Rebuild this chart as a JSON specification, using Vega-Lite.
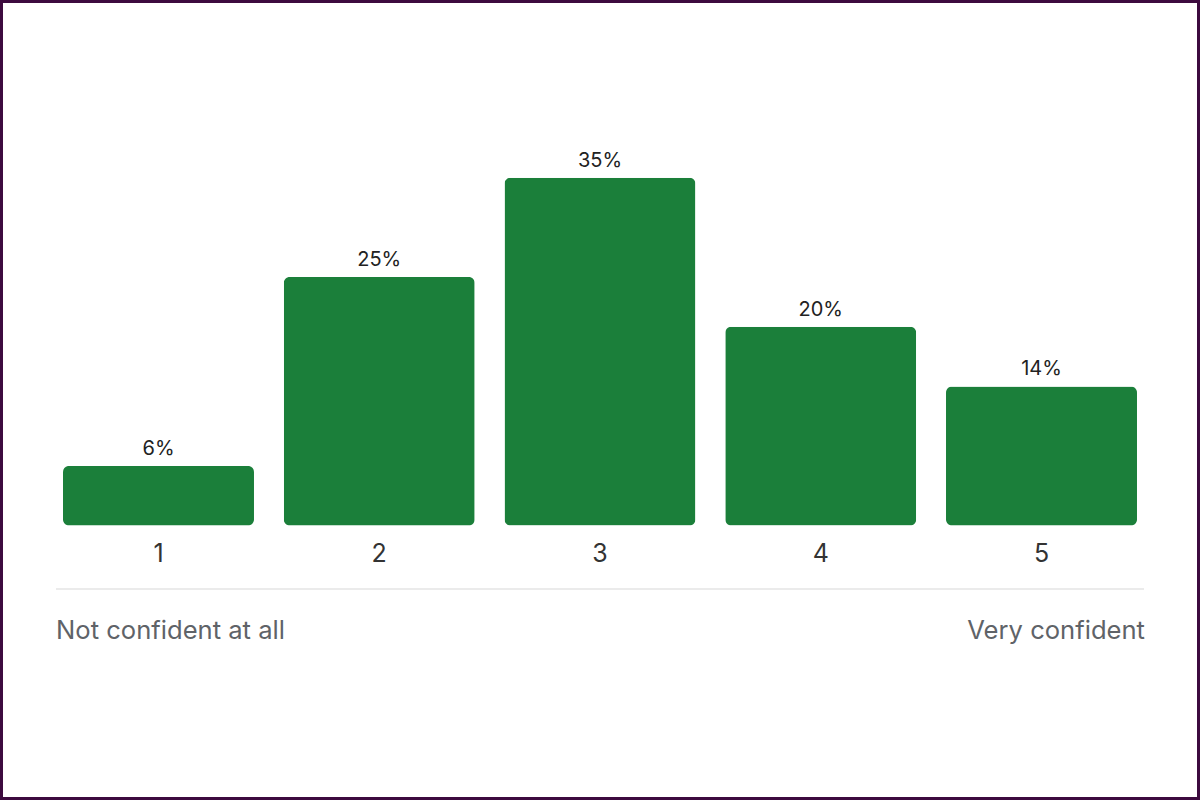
{
  "$schema": "https://vega.github.io/schema/vega-lite/v6.json",
  "width": 1200,
  "height": 800,
  "padding": 0,
  "autosize": {"type": "none"},
  "background": "#ffffff",
  "config": {
    "view": {"stroke": "#3d0b3f", "strokeWidth": 6},
    "font": "Inter"
  },
  "datasets": {
    "answers": [
      {"rating": "1", "pct": 6, "label": "6%"},
      {"rating": "2", "pct": 25, "label": "25%"},
      {"rating": "3", "pct": 35, "label": "35%"},
      {"rating": "4", "pct": 20, "label": "20%"},
      {"rating": "5", "pct": 14, "label": "14%"}
    ],
    "low": [{"rating": "1", "label": "Not confident at all", "level": -11.45}],
    "high": [{"rating": "5", "label": "Very confident", "level": -11.45}],
    "divider": [{"from": "1", "to": "5", "level": -6.39}]
  },
  "layer": [
    {
      "data": {"name": "answers"},
      "mark": {"type": "bar", "color": "#1b7f3a", "cornerRadius": 6},
      "encoding": {
        "x": {
          "field": "rating",
          "type": "nominal",
          "sort": null,
          "scale": {"paddingInner": 0.1348, "paddingOuter": 0.2854},
          "axis": {
            "orient": "bottom",
            "offset": -274.5,
            "domain": false,
            "ticks": false,
            "tickSize": 0,
            "labelAngle": 0,
            "labelFontSize": 25,
            "labelColor": "#333333",
            "labelFont": "Inter",
            "labelBaseline": "alphabetic",
            "labelPadding": 36,
            "title": null
          }
        },
        "y": {
          "field": "pct",
          "type": "quantitative",
          "scale": {"domain": [-27.62, 52.88], "nice": false, "zero": false},
          "axis": null
        }
      }
    },
    {
      "data": {"name": "answers"},
      "mark": {"type": "text", "fontSize": 20, "color": "#222222", "baseline": "alphabetic", "dy": -11},
      "encoding": {
        "x": {"field": "rating", "type": "nominal", "sort": null},
        "y": {"field": "pct", "type": "quantitative"},
        "text": {"field": "label"}
      }
    },
    {
      "data": {"name": "divider"},
      "mark": {"type": "rule", "color": "#ebebeb", "strokeWidth": 2, "xOffset": -7, "x2Offset": 7},
      "encoding": {
        "x": {"field": "from", "type": "nominal", "bandPosition": 0},
        "x2": {"field": "to", "bandPosition": 1},
        "y": {"field": "level", "type": "quantitative"}
      }
    },
    {
      "data": {"name": "low"},
      "mark": {"type": "text", "fontSize": 25.6, "color": "#5f6368", "align": "left", "baseline": "alphabetic", "xOffset": -7},
      "encoding": {
        "x": {"field": "rating", "type": "nominal", "bandPosition": 0},
        "y": {"field": "level", "type": "quantitative"},
        "text": {"field": "label"}
      }
    },
    {
      "data": {"name": "high"},
      "mark": {"type": "text", "fontSize": 25.6, "color": "#5f6368", "align": "right", "baseline": "alphabetic", "xOffset": 8},
      "encoding": {
        "x": {"field": "rating", "type": "nominal", "bandPosition": 1},
        "y": {"field": "level", "type": "quantitative"},
        "text": {"field": "label"}
      }
    }
  ]
}
